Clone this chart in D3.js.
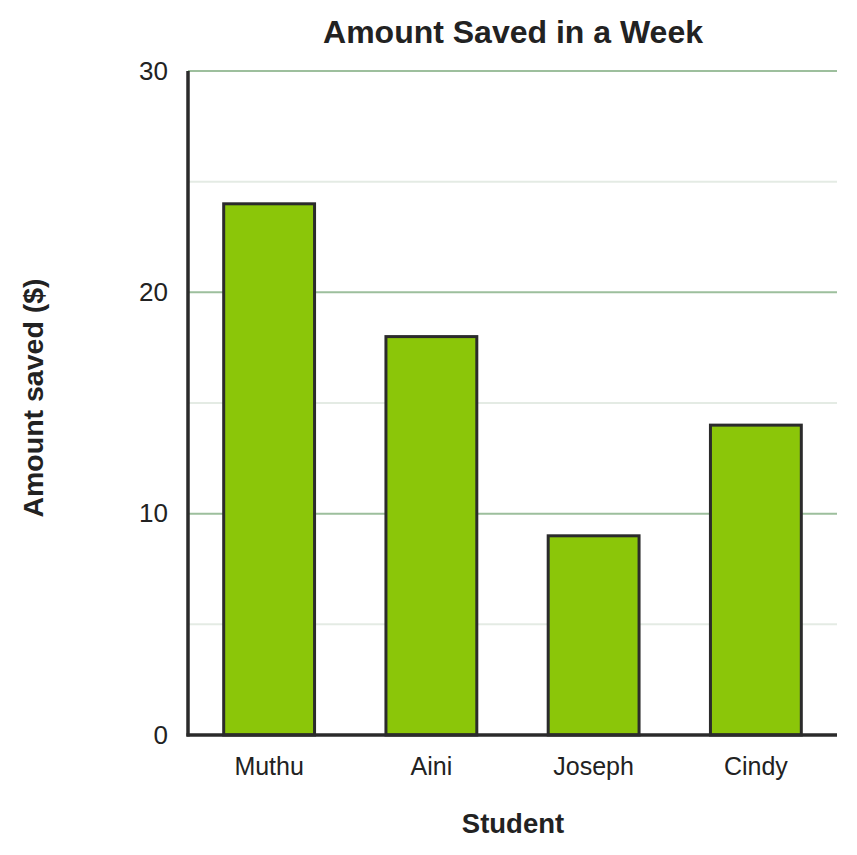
<!DOCTYPE html>
<html>
<head>
<meta charset="utf-8">
<script src="https://cdn.jsdelivr.net/npm/d3@7"></script>
<style>
  body { margin: 0; background: #fff; }
  text { font-family: "Liberation Sans", Arial, sans-serif; fill: #222; }
</style>
</head>
<body>
<svg id="canvas" width="857" height="855"></svg>
<script>
let students = ["Muthu", "Aini", "Joseph", "Cindy"];
let amounts = [24, 18, 9, 14];
let majorTicks = [0, 10, 20, 30];
let minorTicks = [5, 15, 25];

let svg = d3.select("#canvas");

let plotLeft = 188, plotRight = 837, plotTop = 71, plotBottom = 735;

let xScale = d3.scaleBand()
    .domain(students)
    .range([plotLeft, plotRight])
    .paddingInner(0.44)
    .paddingOuter(0.22);

let yScale = d3.scaleLinear()
    .domain([0, 30])
    .range([plotBottom, plotTop]);

// minor grid
svg.selectAll(".minor")
    .data(minorTicks)
    .enter()
    .append("line")
    .attr("class", "minor")
    .attr("x1", plotLeft)
    .attr("x2", plotRight)
    .attr("y1", d => yScale(d))
    .attr("y2", d => yScale(d))
    .attr("stroke", "#e4ebe4")
    .attr("stroke-width", 2);

// major grid
svg.selectAll(".major")
    .data(majorTicks.filter(d => d > 0))
    .enter()
    .append("line")
    .attr("class", "major")
    .attr("x1", plotLeft)
    .attr("x2", plotRight)
    .attr("y1", d => yScale(d))
    .attr("y2", d => yScale(d))
    .attr("stroke", "#9dbf9d")
    .attr("stroke-width", 2);

// bars
svg.selectAll("rect")
    .data(amounts)
    .enter()
    .append("rect")
    .attr("x", (d, i) => xScale(students[i]))
    .attr("y", d => yScale(d))
    .attr("width", xScale.bandwidth())
    .attr("height", d => plotBottom - yScale(d))
    .attr("fill", "#8bc609")
    .attr("stroke", "#2b2b2b")
    .attr("stroke-width", 3);

// y axis
let yAxis = d3.axisLeft(yScale).tickValues(majorTicks).tickSize(0).tickPadding(20);
let yg = svg.append("g").attr("transform", `translate(${plotLeft},0)`).call(yAxis);
yg.select(".domain").remove();
yg.selectAll("text")
    .style("font-size", "26px")
    .style("font-family", "Liberation Sans, Arial, sans-serif")
    .attr("fill", "#222");

// x axis
let xAxis = d3.axisBottom(xScale).tickSize(0).tickPadding(22);
let xg = svg.append("g").attr("transform", `translate(0,${plotBottom})`).call(xAxis);
xg.select(".domain").remove();
xg.selectAll("text")
    .style("font-size", "25px")
    .style("font-family", "Liberation Sans, Arial, sans-serif")
    .attr("fill", "#222");

// axis lines
svg.append("line")
    .attr("x1", plotLeft).attr("x2", plotLeft)
    .attr("y1", plotTop).attr("y2", plotBottom + 1.5)
    .attr("stroke", "#2b2b2b").attr("stroke-width", 3.5);
svg.append("line")
    .attr("x1", plotLeft - 1.5).attr("x2", plotRight)
    .attr("y1", plotBottom).attr("y2", plotBottom)
    .attr("stroke", "#2b2b2b").attr("stroke-width", 3.5);

// title
svg.append("text")
    .attr("x", 513)
    .attr("y", 43)
    .attr("text-anchor", "middle")
    .style("font-size", "32px")
    .style("font-weight", "bold")
    .text("Amount Saved in a Week");

// axis titles
svg.append("text")
    .attr("x", 513)
    .attr("y", 833)
    .attr("text-anchor", "middle")
    .style("font-size", "27.5px")
    .style("font-weight", "bold")
    .text("Student");

svg.append("text")
    .attr("transform", "translate(43,398) rotate(-90)")
    .attr("text-anchor", "middle")
    .style("font-size", "28.5px")
    .style("font-weight", "bold")
    .text("Amount saved ($)");
</script>
</body>
</html>
